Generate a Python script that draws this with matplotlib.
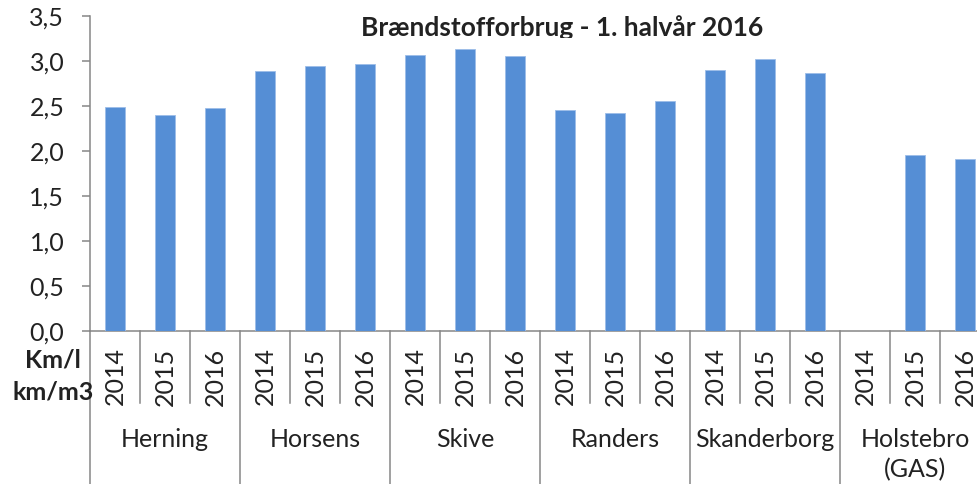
import numpy as np
import matplotlib
matplotlib.use("Agg")
import matplotlib.pyplot as plt
from matplotlib.ticker import FuncFormatter, MultipleLocator
from matplotlib.transforms import Bbox, TransformedBbox, blended_transform_factory

plt.rcParams["font.family"] = ["Lato", "DejaVu Sans"]

# data
cities = ["Herning", "Horsens", "Skive", "Randers", "Skanderborg", "Holstebro"]
city_notes = ["", "", "", "", "", "(GAS)"]
years = ["2014", "2015", "2016"]
herning = [2.49, 2.40, 2.48]
horsens = [2.89, 2.95, 2.97]
skive = [3.07, 3.13, 3.06]
randers = [2.45, 2.42, 2.56]
skanderborg = [2.90, 3.02, 2.87]
holstebro = [np.nan, 1.96, 1.91]

values = herning + horsens + skive + randers + skanderborg + holstebro
labels = years * len(cities)
x = np.arange(len(values))

fs = 18
txt_col = "#222222"

fig = plt.figure(figsize=(9.78, 4.84), dpi=100)
# plot area runs past the right edge, as in the reference
ax = fig.add_axes([90 / 978, 153 / 484, 900 / 978, 315 / 484])

ax.bar(x, values, width=0.4, color="#558ed5", edgecolor="#9dbde8", linewidth=0.6, zorder=3)

axis_col = "#868686"
ax.set_xlim(-0.5, len(values) - 0.5)
ax.set_ylim(0, 3.5)
ax.yaxis.set_major_locator(MultipleLocator(0.5))
ax.yaxis.set_major_formatter(FuncFormatter(lambda v, p: f"{v:.1f}".replace(".", ",")))
ax.tick_params(axis="y", length=6, width=1.1, color=axis_col, pad=12.5, labelsize=fs, labelcolor=txt_col)
ax.set_xticks([])
for s in ["top", "right"]:
    ax.spines[s].set_visible(False)
for s in ["left", "bottom"]:
    ax.spines[s].set_color(axis_col)
    ax.spines[s].set_linewidth(1.1)

trans = blended_transform_factory(ax.transData, ax.transAxes)

# category dividers below the axis
for i in range(len(values) + 1):
    b = i - 0.5
    low = -0.49 if i % 3 == 0 else -0.229
    ax.plot([b, b], [0, low], color=axis_col, lw=1.1, transform=trans, clip_on=False)

# year labels
for xi, lab in zip(x, labels):
    ax.text(xi, -0.052, lab, rotation=90, ha="center", va="top", fontsize=fs,
            color=txt_col, transform=trans, clip_on=False)

# city labels
for g, (city, note) in enumerate(zip(cities, city_notes)):
    cx = g * 3 + 1
    ax.text(cx, -0.368, city, ha="center", va="baseline", fontsize=fs,
            color=txt_col, transform=trans, clip_on=False)
    if note:
        ax.text(cx, -0.465, note, ha="center", va="baseline", fontsize=fs,
                color=txt_col, transform=trans, clip_on=False)

# unit label
fig.text(53 / 978, 1 - 367 / 484, "Km/l", ha="center", va="baseline",
         fontsize=fs, fontweight="bold", color=txt_col)
fig.text(53 / 978, 1 - 399 / 484, "km/m3", ha="center", va="baseline",
         fontsize=fs, fontweight="bold", color=txt_col)

# title, cut off at the bottom like in the reference
title = fig.text(562 / 978, 1 - 36 / 484, "Brændstofforbrug - 1. halvår 2016",
                 ha="center", va="baseline", fontsize=19, fontweight="bold", color=txt_col)
clip = Bbox.from_extents(0, 1 - 38 / 484, 1, 1)
title.set_clip_box(TransformedBbox(clip, fig.transFigure))
title.set_clip_on(True)

fig.savefig("out.png", dpi=100)
